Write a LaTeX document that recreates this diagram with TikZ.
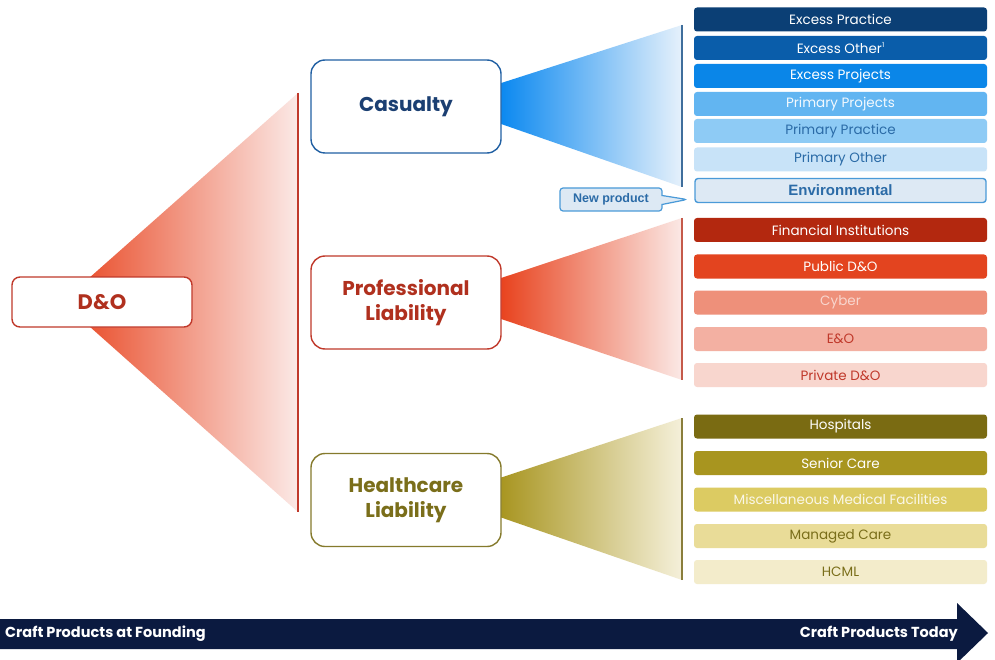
\documentclass[tikz,border=0pt]{standalone}
\usepackage{fontspec}
\setmainfont{Poppins}
\newfontfamily\arialfont{Liberation Sans}
\usetikzlibrary{calc,shapes.callouts}

% palette
\definecolor{casText}{HTML}{1B3F72}
\definecolor{casEdge}{HTML}{2160A3}
\definecolor{casLine}{HTML}{3F6E9C}
\definecolor{casA}{HTML}{0B3F75}
\definecolor{casB}{HTML}{0A5DAA}
\definecolor{casC}{HTML}{0A86E8}
\definecolor{casD}{HTML}{62B5F1}
\definecolor{casE}{HTML}{8ECBF5}
\definecolor{casF}{HTML}{C8E3F8}
\definecolor{envFill}{HTML}{DDE9F4}
\definecolor{envEdge}{HTML}{4A9AD8}
\definecolor{envText}{HTML}{2B6BA7}
\definecolor{casFan}{HTML}{0A88F0}
\definecolor{casFanEnd}{HTML}{E6F1FB}

\definecolor{proText}{HTML}{B0301E}
\definecolor{proEdge}{HTML}{C0392B}
\definecolor{proLine}{HTML}{C55A4A}
\definecolor{proA}{HTML}{B3280F}
\definecolor{proB}{HTML}{E3441F}
\definecolor{proC}{HTML}{EE907A}
\definecolor{proD}{HTML}{F3B0A2}
\definecolor{proE}{HTML}{F8D6CE}
\definecolor{proFan}{HTML}{E8421D}
\definecolor{proFanEnd}{HTML}{FBE9E6}

\definecolor{hcText}{HTML}{7A6E1A}
\definecolor{hcEdge}{HTML}{857A2C}
\definecolor{hcLine}{HTML}{8A7E3C}
\definecolor{hcA}{HTML}{7A6B12}
\definecolor{hcB}{HTML}{A8951F}
\definecolor{hcC}{HTML}{DCCB62}
\definecolor{hcD}{HTML}{E9DC98}
\definecolor{hcE}{HTML}{F3ECCB}
\definecolor{hcFan}{HTML}{A89520}
\definecolor{hcFanEnd}{HTML}{F5F0DA}

\definecolor{barBlue}{HTML}{0B1A40}

\pgfdeclarelayer{paper}
\pgfdeclarelayer{fans}
\pgfsetlayers{paper,fans,main}

\tikzset{
  group/.style={line width=1.4pt, fill=white, rounded corners=14pt,
    minimum width=190pt, minimum height=93pt, align=center,
    font=\fontsize{20}{25}\selectfont\bfseries},
  item/.style={rounded corners=3pt, minimum width=293pt, minimum height=24pt,
    inner sep=0pt, font=\fontsize{13.5}{15}\selectfont},
  stem/.style={line width=1.6pt},
  barlabel/.style={text=white, inner sep=0pt,
    font=\fontsize{14.5}{16}\selectfont\bfseries},
}

\begin{document}
\begin{tikzpicture}[x=1pt,y=-1pt]
\useasboundingbox (0,0) rectangle (995,660);
\begin{pgfonlayer}{paper}
\fill[white] (0,0) rectangle (995,660);
\end{pgfonlayer}

% group boxes
\node[group, draw=casEdge, text=casText] (cas) at (406,106.5) {Casualty};
\node[group, draw=proEdge, text=proText] (pro) at (406,302.5) {Professional\\Liability};
\node[group, draw=hcEdge, text=hcText] (hc) at (406,500) {Healthcare\\Liability};

\node[draw=proEdge, line width=1.4pt, fill=white, rounded corners=8pt,
  minimum width=180pt, minimum height=50pt, text=proText,
  font=\fontsize{21}{24}\selectfont\bfseries] (dno) at (102,302) {D\&O};

% fans and stems
\begin{pgfonlayer}{fans}
\shade[left color=proFan, right color=proFanEnd]
  ($(dno.center)+(-40,0)$) -- (298,93) -- (298,512) -- cycle;
\draw[proEdge, line width=1.2pt] (298,93) -- (298,512);

\shade[left color=casFan, right color=casFanEnd]
  ($(cas.east)+(-2,-23)$) -- (682,25) -- (682,187) -- ($(cas.east)+(-2,17)$) -- cycle;
\shade[left color=proFan, right color=proFanEnd]
  ($(pro.east)+(-2,-24)$) -- (682,218) -- (682,380) -- ($(pro.east)+(-2,16)$) -- cycle;
\shade[left color=hcFan, right color=hcFanEnd]
  ($(hc.east)+(-2,-22)$) -- (682,418) -- (682,580) -- ($(hc.east)+(-2,17)$) -- cycle;
\end{pgfonlayer}

\draw[stem, casLine] (682,25) -- (682,187);
\draw[stem, proLine] (682,218) -- (682,380);
\draw[stem, hcLine] (682,418) -- (682,580);

% casualty products
\node[item, fill=casA, text=white] (ep) at (840.5,19.5) {Excess Practice};
\node[item, fill=casB, text=white] (eo) at (840.5,48) {Excess Other\raisebox{0.9ex}{\fontsize{7}{8}\selectfont 1}};
\node[item, fill=casC, text=white] (ej) at (840.5,76) {Excess Projects};
\node[item, fill=casD, text=white!92!casD] (pj) at (840.5,104) {Primary Projects};
\node[item, fill=casE, text=envText] (pp) at (840.5,131) {Primary Practice};
\node[item, fill=casF, text=envText] (po) at (840.5,159.5) {Primary Other};
\node[item, draw=envEdge, line width=1.4pt, fill=envFill, text=envText,
  minimum width=291pt, minimum height=24pt,
  font=\arialfont\fontsize{15}{17}\selectfont\bfseries] (env) at (840.5,190.5) {Environmental};

\coordinate (npTip) at (687,199.5);
\node[rectangle callout, callout absolute pointer={(npTip)}, callout pointer width=9pt,
  draw=envEdge, line width=1.2pt, fill=envFill, rounded corners=3pt,
  minimum width=102pt, minimum height=23pt, inner sep=0pt, text=envText,
  font=\arialfont\fontsize{12.5}{14}\selectfont\bfseries] (np) at (611,199.5) {New product};

% professional liability products
\node[item, fill=proA, text=white] (fi) at (840.5,230) {Financial Institutions};
\node[item, fill=proB, text=white] (pub) at (840.5,266.5) {Public D\&O};
\node[item, fill=proC, text=proE] (cy) at (840.5,302.5) {Cyber};
\node[item, fill=proD, text=proEdge] (eno) at (840.5,339) {E\&O};
\node[item, fill=proE, text=proEdge] (pri) at (840.5,375) {Private D\&O};

% healthcare liability products
\node[item, fill=hcA, text=white] (hosp) at (840.5,426.5) {Hospitals};
\node[item, fill=hcB, text=white] (sen) at (840.5,463) {Senior Care};
\node[item, fill=hcC, text=white!85!hcC] (misc) at (840.5,499.5) {Miscellaneous Medical Facilities};
\node[item, fill=hcD, text=hcText] (man) at (840.5,536) {Managed Care};
\node[item, fill=hcE, text=hcText] (hcml) at (840.5,572) {HCML};

% timeline arrow
\fill[barBlue] (0,619) -- (957,619) -- (957,603) -- (988,633) -- (957,663)
  -- (957,649) -- (0,649) -- cycle;
\node[barlabel, anchor=west] (start) at (5,634) {Craft Products at Founding};
\node[barlabel, anchor=east] (today) at (958,634) {Craft Products Today};
\end{tikzpicture}
\end{document}
